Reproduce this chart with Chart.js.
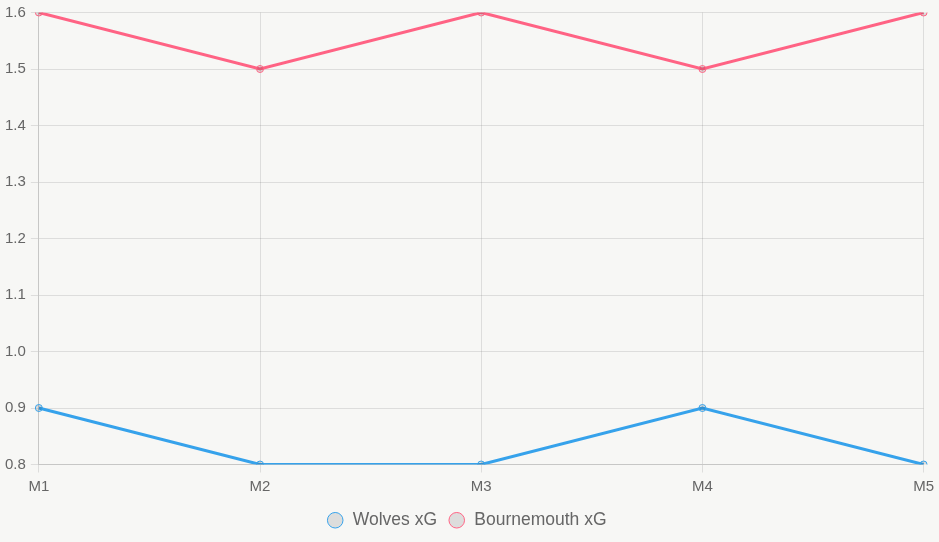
<!DOCTYPE html>
<html>
<head>
<meta charset="utf-8">
<script src="https://cdn.jsdelivr.net/npm/chart.js@4/dist/chart.umd.min.js"></script>
<style>
html,body{margin:0;padding:0;background:#f7f7f5;}
#wrap{position:relative;width:939px;height:542px;}
</style>
</head>
<body>
<div id="wrap"><canvas id="c"></canvas></div>
<script>
const categories = ["M1","M2","M3","M4","M5"];
const wolvesXG = [0.9,0.8,0.8,0.9,0.8];
const bournemouthXG = [1.6,1.5,1.6,1.5,1.6];
const yTicks = [0.8,0.9,1.0,1.1,1.2,1.3,1.4,1.5,1.6];

Chart.defaults.font.family = "'Liberation Sans', Arial, sans-serif";
Chart.defaults.color = '#666';
new Chart(document.getElementById('c'), {
  type: 'line',
  data: {
    labels: categories,
    datasets: [
      {label:'Wolves xG', data: wolvesXG, borderColor:'#36A2EB', backgroundColor:'rgba(0,0,0,0.1)', borderWidth:3, pointRadius:3.5, pointBorderWidth:1, tension:0},
      {label:'Bournemouth xG', data: bournemouthXG, borderColor:'#FF6384', backgroundColor:'rgba(0,0,0,0.1)', borderWidth:3, pointRadius:3.5, pointBorderWidth:1, tension:0}
    ]
  },
  options: {
    responsive:true, maintainAspectRatio:false, animation:false,
    layout:{padding:{top:12,right:6,left:0,bottom:3}},
    plugins:{
      legend:{position:'bottom', labels:{usePointStyle:true, pointStyle:'circle', font:{size:17.5}, boxHeight:11, padding:11}},
      tooltip:{enabled:false}
    },
    scales:{
      x:{grid:{color:'rgba(0,0,0,0.1)'}, ticks:{font:{size:15}, padding:5}},
      y:{min:0.8, max:1.6, grid:{color:'rgba(0,0,0,0.1)'},
         afterBuildTicks:(s)=>{s.ticks = yTicks.map(v=>({value:v}));},
         ticks:{font:{size:15, lineHeight:1.0}, padding:5, callback:(v)=>v.toFixed(1)}}
    }
  }
});
</script>
</body>
</html>
